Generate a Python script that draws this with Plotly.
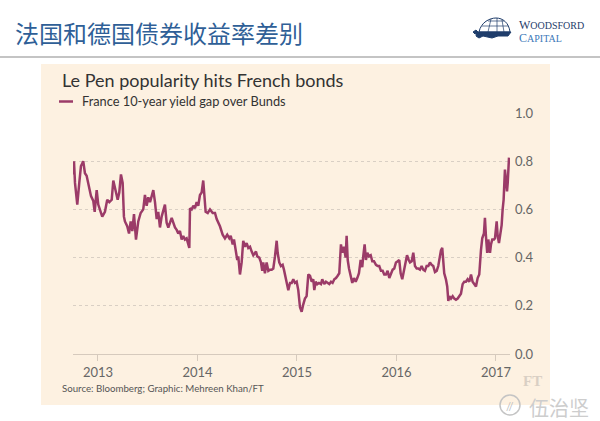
import plotly.graph_objects as go

# ---- data (decimal years, spread in percentage points) ----
years = [2012.752, 2012.759, 2012.769, 2012.792, 2012.812, 2012.829, 2012.852, 2012.869, 2012.886, 2012.910,
         2012.930, 2012.953, 2012.967, 2012.987, 2013.003, 2013.027, 2013.043, 2013.070, 2013.093, 2013.114,
         2013.138, 2013.154, 2013.178, 2013.198, 2013.214, 2013.231, 2013.248, 2013.261, 2013.271, 2013.294,
         2013.312, 2013.329, 2013.345, 2013.362, 2013.382, 2013.405, 2013.429, 2013.455, 2013.472, 2013.489,
         2013.506, 2013.523, 2013.540, 2013.556, 2013.573, 2013.590, 2013.606, 2013.623, 2013.640, 2013.656,
         2013.673, 2013.690, 2013.707, 2013.724, 2013.741, 2013.757, 2013.774, 2013.791, 2013.807, 2013.824,
         2013.841, 2013.857, 2013.874, 2013.891, 2013.908, 2013.918, 2013.925, 2013.942, 2013.958, 2013.975,
         2013.992, 2014.008, 2014.025, 2014.042, 2014.058, 2014.068, 2014.082, 2014.103, 2014.126, 2014.153,
         2014.176, 2014.193, 2014.226, 2014.253, 2014.276, 2014.299, 2014.320, 2014.334, 2014.354, 2014.367,
         2014.387, 2014.400, 2014.410, 2014.427, 2014.444, 2014.460, 2014.477, 2014.494, 2014.511, 2014.528,
         2014.545, 2014.561, 2014.588, 2014.601, 2014.621, 2014.638, 2014.651, 2014.661, 2014.678, 2014.695,
         2014.712, 2014.729, 2014.746, 2014.762, 2014.779, 2014.796, 2014.806, 2014.822, 2014.839, 2014.856,
         2014.869, 2014.889, 2014.913, 2014.930, 2014.947, 2014.963, 2014.980, 2014.997, 2015.013, 2015.030,
         2015.047, 2015.063, 2015.080, 2015.097, 2015.114, 2015.131, 2015.148, 2015.164, 2015.174, 2015.188,
         2015.204, 2015.221, 2015.241, 2015.254, 2015.274, 2015.291, 2015.308, 2015.325, 2015.342, 2015.358,
         2015.375, 2015.392, 2015.409, 2015.425, 2015.442, 2015.455, 2015.472, 2015.489, 2015.499, 2015.510,
         2015.523, 2015.540, 2015.556, 2015.573, 2015.590, 2015.606, 2015.623, 2015.640, 2015.656, 2015.666,
         2015.680, 2015.693, 2015.707, 2015.724, 2015.741, 2015.757, 2015.774, 2015.794, 2015.811, 2015.827,
         2015.844, 2015.861, 2015.877, 2015.894, 2015.911, 2015.928, 2015.945, 2015.962, 2015.978, 2015.995,
         2016.012, 2016.028, 2016.042, 2016.058, 2016.075, 2016.092, 2016.106, 2016.123, 2016.136, 2016.153,
         2016.169, 2016.186, 2016.203, 2016.219, 2016.236, 2016.253, 2016.269, 2016.286, 2016.303, 2016.320,
         2016.337, 2016.353, 2016.370, 2016.387, 2016.404, 2016.420, 2016.437, 2016.447, 2016.460, 2016.470,
         2016.480, 2016.497, 2016.510, 2016.521, 2016.531, 2016.548, 2016.565, 2016.581, 2016.598, 2016.615,
         2016.631, 2016.648, 2016.665, 2016.681, 2016.698, 2016.715, 2016.732, 2016.749, 2016.765, 2016.782,
         2016.799, 2016.816, 2016.832, 2016.849, 2016.862, 2016.879, 2016.889, 2016.899, 2016.912, 2016.923,
         2016.940, 2016.950, 2016.963, 2016.980, 2016.990, 2017.007, 2017.017, 2017.030, 2017.047, 2017.057,
         2017.067, 2017.077, 2017.090, 2017.101, 2017.111, 2017.118, 2017.124, 2017.131]

spread = [0.745, 0.80, 0.71, 0.62, 0.71, 0.78, 0.80, 0.75, 0.74, 0.69,
          0.655, 0.635, 0.59, 0.68, 0.62, 0.59, 0.57, 0.59, 0.64, 0.63,
          0.64, 0.72, 0.67, 0.64, 0.67, 0.745, 0.71, 0.57, 0.55, 0.53,
          0.50, 0.55, 0.51, 0.58, 0.475, 0.55, 0.585, 0.60, 0.66, 0.615,
          0.65, 0.63, 0.655, 0.68, 0.63, 0.56, 0.59, 0.525, 0.57, 0.60,
          0.62, 0.545, 0.525, 0.545, 0.565, 0.545, 0.525, 0.515, 0.50, 0.51,
          0.475, 0.49, 0.475, 0.48, 0.445, 0.44, 0.605, 0.60, 0.615, 0.605,
          0.63, 0.615, 0.66, 0.67, 0.72, 0.67, 0.59, 0.585, 0.60, 0.585,
          0.585, 0.56, 0.53, 0.495, 0.48, 0.495, 0.48, 0.49, 0.455, 0.475,
          0.42, 0.39, 0.405, 0.33, 0.38, 0.47, 0.445, 0.46, 0.44, 0.445,
          0.425, 0.41, 0.425, 0.405, 0.40, 0.38, 0.345, 0.38, 0.335, 0.38,
          0.345, 0.35, 0.35, 0.355, 0.405, 0.47, 0.42, 0.38, 0.365, 0.37,
          0.35, 0.315, 0.265, 0.295, 0.295, 0.31, 0.295, 0.30, 0.265, 0.195,
          0.175, 0.205, 0.23, 0.24, 0.33, 0.325, 0.30, 0.31, 0.265, 0.30,
          0.29, 0.295, 0.29, 0.31, 0.29, 0.30, 0.295, 0.29, 0.30, 0.295,
          0.31, 0.315, 0.325, 0.335, 0.455, 0.42, 0.445, 0.40, 0.49, 0.39,
          0.355, 0.325, 0.295, 0.315, 0.30, 0.315, 0.335, 0.39, 0.36, 0.405,
          0.455, 0.39, 0.42, 0.405, 0.41, 0.385, 0.385, 0.37, 0.365, 0.365,
          0.345, 0.345, 0.33, 0.33, 0.345, 0.315, 0.335, 0.35, 0.355, 0.38,
          0.385, 0.39, 0.335, 0.31, 0.345, 0.385, 0.41, 0.39, 0.38, 0.385,
          0.42, 0.365, 0.355, 0.355, 0.35, 0.365, 0.35, 0.345, 0.365, 0.365,
          0.38, 0.37, 0.365, 0.34, 0.345, 0.365, 0.41, 0.43, 0.44, 0.39,
          0.335, 0.31, 0.28, 0.22, 0.24, 0.23, 0.24, 0.23, 0.225, 0.23,
          0.24, 0.25, 0.29, 0.30, 0.30, 0.31, 0.30, 0.33, 0.30, 0.29,
          0.28, 0.315, 0.33, 0.43, 0.48, 0.50, 0.565, 0.49, 0.42, 0.475,
          0.42, 0.455, 0.475, 0.475, 0.48, 0.55, 0.49, 0.46, 0.50, 0.535,
          0.60, 0.64, 0.765, 0.725, 0.675, 0.71, 0.795, 0.815]

x_ticks = [2013, 2014, 2015, 2016, 2017]
x_labels = ["2013", "2014", "2015", "2016", "2017"]
y_ticks = [0.0, 0.2, 0.4, 0.6, 0.8, 1.0]

# ---- layout geometry (pixels) ----
W, H = 600, 421
L, R, T, B = 73, 510, 113, 354  # plot area edges


def px_x(p):
    return (p - L) / (R - L)


def px_y(p):
    return (B - p) / (B - T)


LINE = "#9b3b68"
PANEL = "#fdf1e1"
FONT = "Lato"
NAVY = "#1f3d6b"

fig = go.Figure()
fig.add_trace(go.Scatter(x=years, y=spread, mode="lines",
                         line=dict(color=LINE, width=2.5), showlegend=False,
                         hoverinfo="skip"))

# turtle-like logo drawn with pixel-sized paths anchored near (494, 31)
tx, ty = px_x(494), px_y(31)
logo = [
    dict(type="path", xref="paper", yref="paper", xsizemode="pixel", ysizemode="pixel",
         xanchor=tx, yanchor=ty,
         path="M -15,-1 C -13,9 -4,13 2,13 C 9,13 15,8 16,-1 Z",
         fillcolor="white", line=dict(color=NAVY, width=1)),
    dict(type="path", xref="paper", yref="paper", xsizemode="pixel", ysizemode="pixel",
         xanchor=tx, yanchor=ty,
         path="M -12,5 L 14,5 M -6,10 L 10,10 M -6,-1 L -3,12 M 3,-1 L 3,13 M 10,-1 L 8,11",
         line=dict(color=NAVY, width=0.7)),
    dict(type="path", xref="paper", yref="paper", xsizemode="pixel", ysizemode="pixel",
         xanchor=tx, yanchor=ty,
         path="M -17,-1 L 17,-1 L 14,-5 L 4,-5 L -2,-7 L -11,-5 L -15,-7 L -18,-5 Z",
         fillcolor=NAVY, line=dict(color=NAVY, width=1)),
    dict(type="path", xref="paper", yref="paper", xsizemode="pixel", ysizemode="pixel",
         xanchor=tx, yanchor=ty,
         path="M -15,-2 L -19,-3 L -21,-1 L -18,1 Z",
         fillcolor=NAVY, line=dict(color=NAVY, width=1)),
]

shapes = [
    dict(type="rect", xref="paper", yref="paper", x0=px_x(41), x1=px_x(550),
         y0=px_y(405), y1=px_y(64), fillcolor=PANEL, line=dict(width=0), layer="below"),
    dict(type="line", xref="paper", yref="paper", x0=px_x(0), x1=px_x(600),
         y0=px_y(57), y1=px_y(57), line=dict(color="#b0b0b0", width=1.5)),
    dict(type="line", xref="paper", yref="paper", x0=px_x(59), x1=px_x(73),
         y0=px_y(101.5), y1=px_y(101.5), line=dict(color=LINE, width=2.5)),
    dict(type="circle", xref="paper", yref="paper", x0=px_x(500), x1=px_x(520),
         y0=px_y(415), y1=px_y(395), line=dict(color="#c4c4c4", width=1.5)),
] + logo

annotations = [
    dict(text="法国和德国债券收益率差别", x=px_x(13), y=px_y(32), xref="paper", yref="paper",
         xanchor="left", yanchor="middle", showarrow=False,
         font=dict(family="Noto Sans CJK SC", size=24, color="#2f5f97")),
    dict(text="W<span style='font-size:10px'>OODSFORD</span>", x=px_x(517), y=px_y(25), xref="paper", yref="paper",
         xanchor="left", yanchor="middle", showarrow=False,
         font=dict(family="Liberation Serif", size=12, color=NAVY)),
    dict(text="C<span style='font-size:10px'>APITAL</span>", x=px_x(517), y=px_y(38), xref="paper", yref="paper",
         xanchor="left", yanchor="middle", showarrow=False,
         font=dict(family="Liberation Serif", size=12, color="#3a78b8")),
    dict(text="Le Pen popularity hits French bonds", x=px_x(60), y=px_y(80), xref="paper", yref="paper",
         xanchor="left", yanchor="middle", showarrow=False,
         font=dict(family=FONT, size=18, color="#333333")),
    dict(text="France 10-year yield gap over Bunds", x=px_x(80), y=px_y(101.5), xref="paper", yref="paper",
         xanchor="left", yanchor="middle", showarrow=False,
         font=dict(family=FONT, size=12.8, color="#333333")),
    dict(text="Source: Bloomberg; Graphic: Mehreen Khan/FT", x=px_x(60), y=px_y(388), xref="paper", yref="paper",
         xanchor="left", yanchor="middle", showarrow=False,
         font=dict(family=FONT, size=9.7, color="#555555")),
    dict(text="<b>FT</b>", x=px_x(532), y=px_y(381), xref="paper", yref="paper",
         xanchor="center", yanchor="middle", showarrow=False,
         font=dict(family="Liberation Serif", size=15, color="#d9cfc4")),
    dict(text="//", x=px_x(510), y=px_y(406), xref="paper", yref="paper",
         xanchor="center", yanchor="middle", showarrow=False,
         font=dict(family=FONT, size=11, color="#bdbdbd")),
    dict(text="伍治坚", x=px_x(591), y=px_y(407), xref="paper", yref="paper",
         xanchor="right", yanchor="middle", showarrow=False,
         font=dict(family="Noto Sans CJK SC", size=20, color="#cdcdcd")),
]

fig.update_layout(
    width=W, height=H,
    margin=dict(l=L, r=W - R, t=T, b=H - B, pad=0),
    paper_bgcolor="white", plot_bgcolor=PANEL,
    shapes=shapes, annotations=annotations,
    xaxis=dict(range=[2012.749, 2017.141], tickvals=x_ticks, ticktext=x_labels,
               showgrid=False, zeroline=False, showline=True, linecolor="#d6cabd", linewidth=1,
               ticks="outside", ticklen=6, tickcolor="#d6cabd",
               tickfont=dict(family=FONT, size=13, color="#666666")),
    yaxis=dict(range=[0, 1.0], tickvals=y_ticks, tickformat=".1f", side="right",
               showgrid=True, gridcolor="#d9cfc4", griddash="dot", gridwidth=1,
               zeroline=False, showline=False, ticks="", ticklabelstandoff=4,
               tickfont=dict(family=FONT, size=13, color="#666666")),
)

fig.write_html("out.html", config={"displayModeBar": False},
               post_script="document.body.style.margin='0';")
